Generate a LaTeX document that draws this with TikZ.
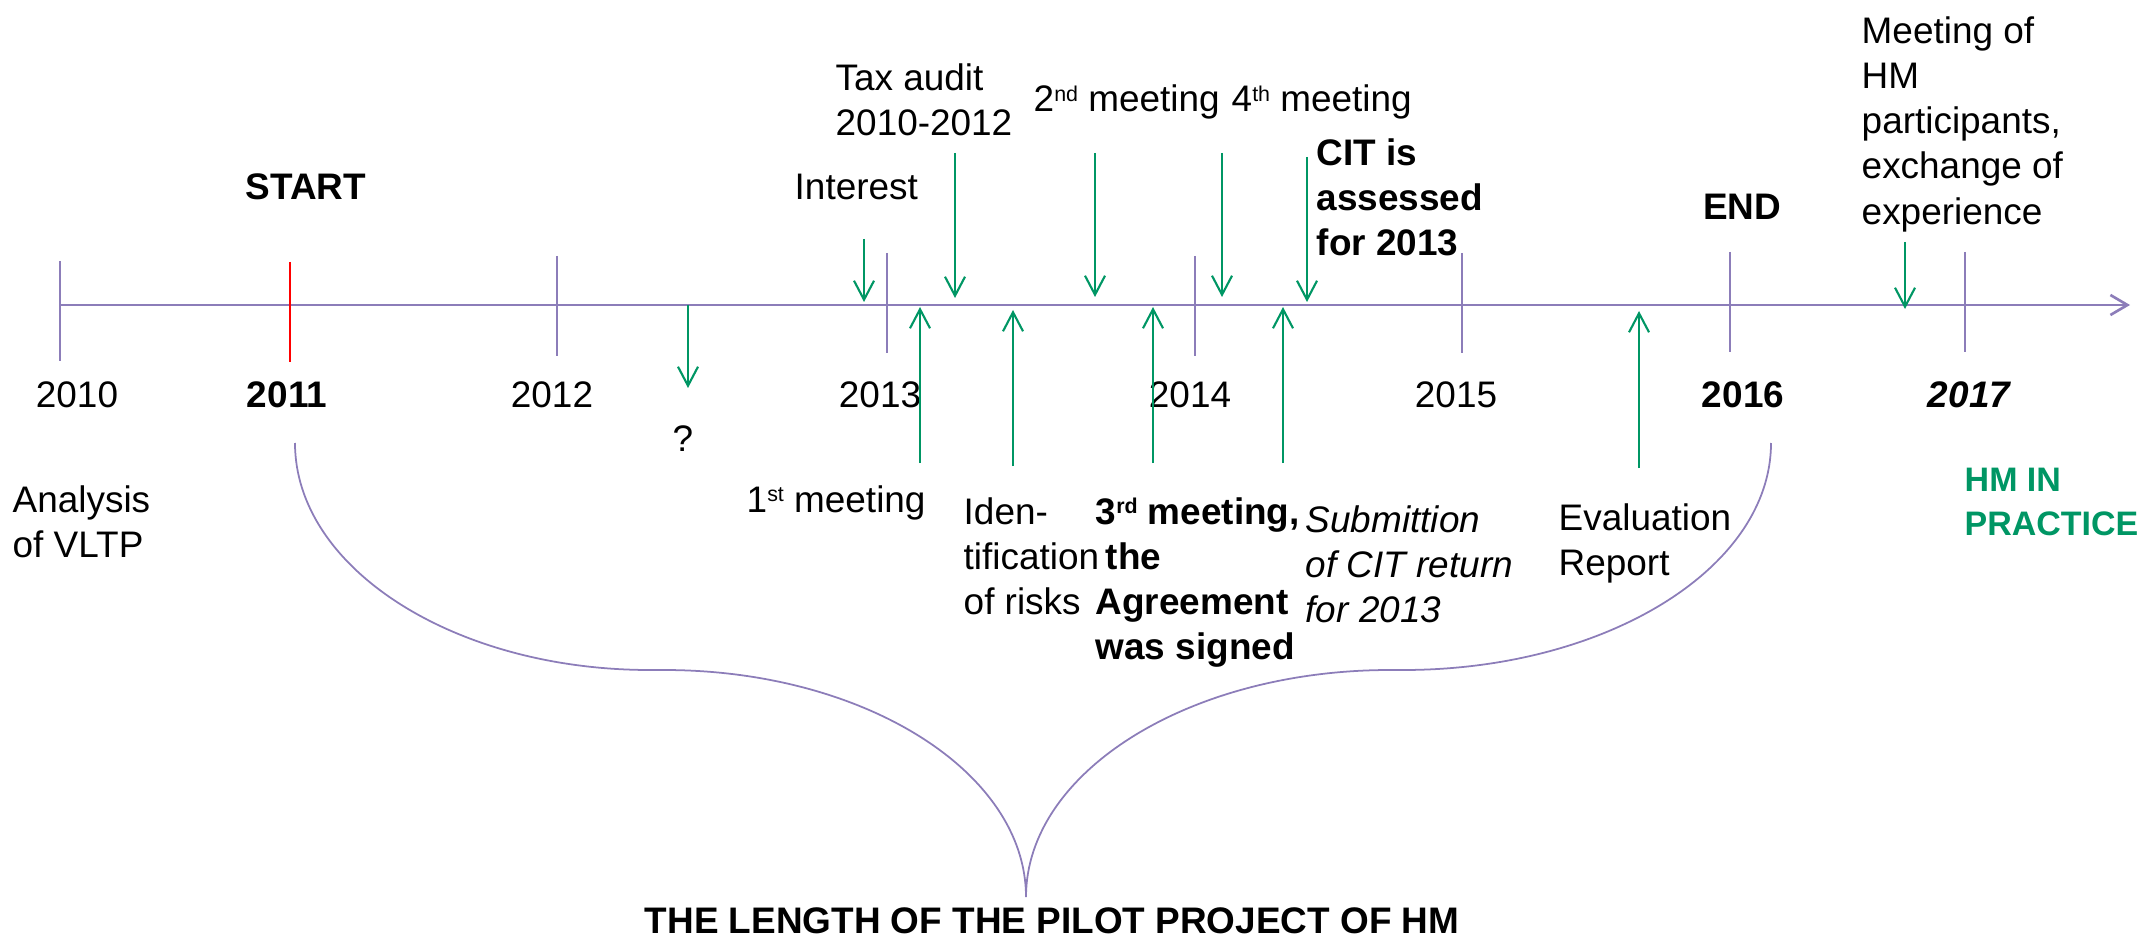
\documentclass[tikz,border=0pt]{standalone}
\usepackage{fontspec}
\setmainfont{Liberation Sans}[Scale=1.05]
\linespread{1.07}
\usepackage{xcolor}
\usepackage{tikz}
\usetikzlibrary{arrows.meta,positioning}

\definecolor{axisviolet}{RGB}{140,125,185}
\definecolor{eventgreen}{RGB}{0,150,100}
\newcommand{\ordsup}[1]{\raisebox{3pt}{\fontsize{5.8}{6}\selectfont #1}}

\begin{document}
\begin{tikzpicture}[
    x=0.01cm, y=-0.01cm,% one unit = one pixel of the slide
    inner sep=0pt,
    year/.style={anchor=base},
    textblock/.style={anchor=north west, align=left},
    yeartick/.style={draw=axisviolet, line width=0.5pt},
    eventarrow/.style={
        % green markers
        draw=eventgreen,
        line width=0.6pt,
        -{Straight Barb[length=1.9mm,width=2mm]}},
    bracecurve/.style={draw=axisviolet, line width=0.5pt}
  ]
  \useasboundingbox (0,0) rectangle (2143,937);

  % time axis
  \coordinate (axis start) at (60,305);
  \coordinate (axis end) at (2130,305);
  \draw [draw=axisviolet, line width=0.75pt, -{Straight Barb[length=1.7mm,width=2mm]}] (axis start) -- (axis end);
  \foreach \x/\t/\b in {60/261/361, 557/256/356, 887/253/353, 1195/256/356,
                        1462/253/353, 1730/252/352, 1965/252/352}
    \draw [yeartick] (\x,\t) -- (\x,\b);
  \draw [yeartick, draw=red] (290,262) -- (290,362);

  % years
  \node (y2010) [year] at (77,408) {2010};
  \node (y2011) [year, font=\bfseries] at (287,408) {2011};
  \node (y2012) [year] at (552,408) {2012};
  \node (y2013) [year] at (880,408) {2013};
  \node (y2014) [year] at (1190,408) {2014};
  \node (y2015) [year] at (1456,408) {2015};
  \node (y2016) [year, font=\bfseries] at (1743,408) {2016};
  \node (y2017) [year, font=\bfseries\itshape] at (1969,408) {2017};

  \node (start) [year, font=\bfseries] at (306,200) {START};
  \node (end) [year, font=\bfseries] at (1742,220) {END};

  % events above the axis
  \node (interest) [anchor=base west] at (794,200) {Interest};
  \node (audit) [textblock] at (835,63) {Tax audit\\2010-2012};
  \node (second) [anchor=base west] at (1033,112) {2\ordsup{nd} meeting};
  \node (fourth) [anchor=base west] at (1231,112) {4\ordsup{th} meeting};
  \node (cit) [textblock, font=\bfseries] at (1316,138) {CIT is\\assessed\\for 2013};
  \node (hm meeting) [textblock] at (1861,16) {Meeting of\\HM\\participants,\\exchange of\\experience};

  % events below the axis
  \node (analysis) [textblock] at (12,485) {Analysis\\of VLTP};
  \node (unknown) [year] at (683,452) {?};
  \node (first) [anchor=base west] at (746,512) {1\ordsup{st} meeting};
  \node (risks) [textblock] at (963,497) {Iden-\\tification\\of risks};
  \node (third) [textblock, font=\bfseries] at (1095,497) {3\ordsup{rd} meeting,\\\ the\\Agreement\\was signed};
  \node (cit return) [textblock, font=\itshape] at (1305,505) {Submittion\\of CIT return\\for 2013};
  \node (evaluation) [textblock] at (1558,503) {Evaluation\\Report};
  \node (practice) [textblock, font=\fontsize{9.2}{11.7}\selectfont\bfseries, text=eventgreen] at (1964,467) {HM IN\\PRACTICE};

  \foreach \n/\x/\a/\b in {unknown/688/305/388, interest/864/239/302, audit/955/153/298,
                          second/1095/153/297, fourth/1222/153/297, cit/1307/157/302,
                          hm meeting/1905/242/309, first/920/463/307, risks/1013/466/310,
                          third/1153/463/307, cit return/1283/463/307, evaluation/1639/468/311}
  {
    \coordinate (\n-tail) at (\x,\a);
    \coordinate (\n-head) at (\x,\b);
    \draw [eventarrow] (\n-tail) -- (\n-head);
  }

  % brace under the pilot years
  \coordinate (brace left) at (295,443);
  \coordinate (brace tip) at (1026,897);
  \coordinate (brace right) at (1771,443);
  \draw [bracecurve] (brace left) .. controls (295,568) and (454,670) .. (650,670)
    -- (664,670) .. controls (864,670) and (1026,772) .. (brace tip)
    .. controls (1026,772) and (1189,670) .. (1390,670)
    -- (1403,670) .. controls (1606,670) and (1771,568) .. (brace right);
  \node (pilot) [year, font=\bfseries] at (1052,933) {THE LENGTH OF THE PILOT PROJECT OF HM};
\end{tikzpicture}
\end{document}
